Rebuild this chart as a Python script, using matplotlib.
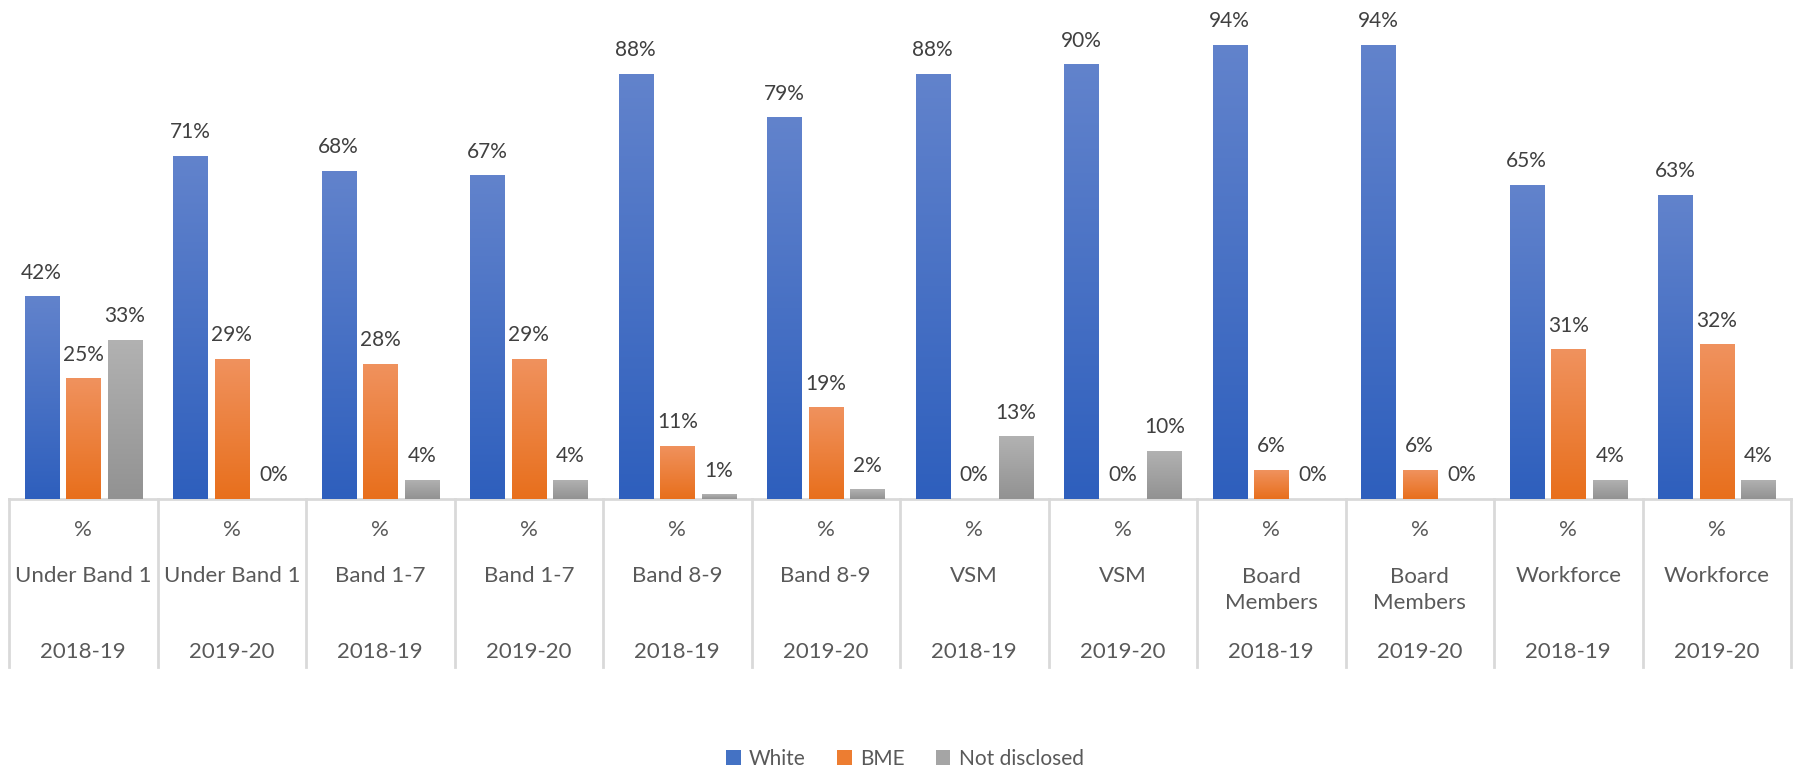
import numpy as np
import matplotlib
matplotlib.use("Agg")
import matplotlib.pyplot as plt
from matplotlib.colors import LinearSegmentedColormap
from matplotlib.patches import Patch
import matplotlib.transforms as mtransforms

plt.rcParams['font.family'] = ['Lato', 'DejaVu Sans']

# data
groups = ["Under Band 1", "Under Band 1", "Band 1-7", "Band 1-7", "Band 8-9", "Band 8-9",
          "VSM", "VSM", "Board\nMembers", "Board\nMembers", "Workforce", "Workforce"]
years = ["2018-19", "2019-20"] * 6
white = [42, 71, 68, 67, 88, 79, 88, 90, 94, 94, 65, 63]
bme = [25, 29, 28, 29, 11, 19, 0, 0, 6, 6, 31, 32]
not_disclosed = [33, 0, 4, 4, 1, 2, 13, 10, 0, 0, 4, 4]

series = [
    ("White", white, "#6283cc", "#2e5fbd", "#4472c4"),
    ("BME", bme, "#f0925e", "#e86f1c", "#ed7d31"),
    ("Not disclosed", not_disclosed, "#b2b2b2", "#929292", "#a5a5a5"),
]

W, H = 1795, 772
fig = plt.figure(figsize=(W / 100, H / 100), dpi=100)
base_y = 499
top_y = 16
ax = fig.add_axes([9 / W, (H - base_y) / H, 1782 / W, (base_y - top_y) / H])

x = np.arange(len(groups))
ax.axis("off")

offsets = [-0.28, 0, 0.28]
grad = np.linspace(0, 1, 256).reshape(-1, 1)
for (name, vals, c_top, c_bot, _), off in zip(series, offsets):
    bars = ax.bar(x + off, vals, width=0.23, color=c_bot, zorder=2)
    cmap = LinearSegmentedColormap.from_list(name, [c_bot, c_top])
    for b, v in zip(bars, vals):
        if v > 0:
            bx, bw, bh = b.get_x(), b.get_width(), b.get_height()
            im = ax.imshow(grad, cmap=cmap, origin="lower", aspect="auto",
                           extent=[bx, bx + bw, 0, bh], zorder=3)
            im.set_clip_path(b)
        ax.annotate(f"{v}%", (b.get_x() + b.get_width() / 2, v), xytext=(0, 17),
                    textcoords="offset points", ha="center", va="center",
                    fontsize=15, color="#404040")
ax.set_xlim(-0.5, len(groups) - 0.5)
ax.set_ylim(0, 100)

# category axis
trans = mtransforms.blended_transform_factory(ax.transData, fig.transFigure)
fy = lambda py: (H - py) / H
ax.plot([-0.5, len(groups) - 0.5], [fy(base_y)] * 2, transform=trans, color="#d9d9d9",
        lw=2, clip_on=False)
for i in range(len(groups) + 1):
    ax.plot([i - 0.5, i - 0.5], [fy(base_y), fy(667)], transform=trans, color="#d9d9d9",
            lw=2, clip_on=False)
lab = dict(transform=trans, ha="center", va="center", fontsize=16, color="#595959")
for i, (g, yr) in enumerate(zip(groups, years)):
    ax.text(i, fy(530), "%", **lab)
    ax.text(i, fy(590) if "\n" in g else fy(576), g, linespacing=1.4, **lab)
    ax.text(i, fy(652), yr, **lab)

handles = [Patch(facecolor=s[4], label=s[0]) for s in series]
fig.legend(handles=handles, loc="center", bbox_to_anchor=(905 / W, fy(759)), ncol=3,
           frameon=False, fontsize=15, labelcolor="#595959", handlelength=0.7,
           handleheight=0.7, handletextpad=0.4, columnspacing=1.5)

fig.savefig("out.png", dpi=100)
